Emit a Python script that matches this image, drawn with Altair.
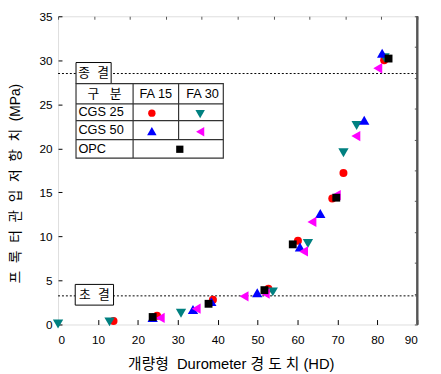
import altair as alt
import pandas as pd

# ---- data ----
series_names = ["CGS25_FA15", "CGS25_FA30", "CGS50_FA15", "CGS50_FA30", "OPC"]
s1_x = [13.9, 24.8, 38.8, 52.7, 60.1, 68.7, 71.5, 81.7]
s1_y = [0.4, 1.0, 2.8, 4.06, 9.5, 14.3, 17.2, 30.0]
s2_x = [0.0, 12.9, 30.8, 53.8, 62.6, 71.5, 74.8, 81.8]
s2_y = [0.05, 0.3, 1.27, 3.7, 9.2, 19.5, 22.6, 30.3]
s3_x = [23.7, 33.8, 38.4, 49.9, 60.6, 65.7, 76.7, 81.2]
s3_y = [0.8, 1.7, 2.6, 3.6, 8.8, 12.6, 23.2, 30.8]
s4_x = [25.6, 34.6, 46.6, 51.9, 61.5, 63.6, 69.7, 74.6, 80.1]
s4_y = [0.75, 1.8, 3.2, 3.5, 8.3, 11.65, 14.7, 21.4, 29.1]
s5_x = [23.7, 37.7, 51.7, 58.8, 69.7, 82.8]
s5_y = [0.85, 2.35, 3.9, 9.1, 14.4, 30.2]

shapes = ["circle", "triangle-down", "triangle-up", "triangle-left", "square"]
colors = ["#ff0000", "#008080", "#0000ff", "#ff00ff", "#000000"]
marker_sizes = [66, 110, 110, 110, 64]

x_ticks = [0, 10, 20, 30, 40, 50, 60, 70, 80, 90]
y_ticks = [0, 5, 10, 15, 20, 25, 30, 35]
ref_lines = [28.5, 3.25]  # 종결 / 초결 levels

NB = "\u00a0"
# table / label boxes (in data coordinates)
box_labels = ["종" + NB + NB + "결", "초" + NB + NB + "결"]
box_x = [4.5, 4.3]
box_x2 = [13.3, 13.9]
box_y = [29.75, 4.55]
box_y2 = [27.35, 2.2]

tbl_cols = [4.5, 18.8, 30.2, 41.4]
tbl_rows = [27.35, 25.05, 23.15, 21.0, 18.9]
tbl_texts = ["구" + NB + NB + NB + "분", "FA 15", "FA 30", "CGS 25", "CGS 50", "OPC"]
tbl_text_x = [11.65, 24.5, 36.2, 5.1, 5.1, 5.1]
tbl_text_y = [26.2, 26.2, 26.2, 24.1, 22.1, 19.95]
tbl_text_align = ["center", "center", "center", "left", "left", "left"]
tbl_mark_x = [23.5, 35.6, 23.5, 35.6, 30.5]
tbl_mark_y = [24.0, 23.9, 21.95, 21.9, 19.9]

FONT = "Liberation Sans, Noto Sans CJK KR"

xs = alt.Scale(domain=[0, 90], nice=False)
ys = alt.Scale(domain=[0, 35], nice=False)

series_x = [s1_x, s2_x, s3_x, s4_x, s5_x]
series_y = [s1_y, s2_y, s3_y, s4_y, s5_y]

sp = NB + " "
xaxis = alt.Axis(values=x_ticks, domain=False, grid=False, tickSize=5, offset=-5,
                 labelPadding=10, labelFontSize=12, labelFont=FONT, labelColor="black",
                 tickColor="black", title="개량형" + sp + "Durometer 경 도 치 (HD)",
                 titleFont=FONT, titleFontSize=15, titleFontWeight="normal",
                 titleColor="black", titleBaseline="middle", titleY=45, titleX=176)
yaxis = alt.Axis(values=y_ticks, domain=False, grid=False, tickSize=4, offset=-4,
                 labelPadding=6, labelFontSize=12, labelFont=FONT, labelColor="black",
                 tickColor="black",
                 title=sp.join(["프", "록", "터", "관", "입", "저", "항", "치", "(MPa)"]),
                 titleFont=FONT, titleFontSize=14, titleFontWeight="normal",
                 titleColor="black", titleBaseline="middle", titleX=-47, titleY=170,
                 titleAngle=270)

ref_df = pd.DataFrame({"y": ref_lines})
ref = alt.Chart(ref_df).mark_rule(color="black", strokeDash=[2, 2], strokeWidth=1).encode(
    y=alt.Y("y:Q", scale=ys, axis=yaxis))

point_layers = []
for i, name in enumerate(series_names):
    df = pd.DataFrame({"hd": series_x[i], "mpa": series_y[i]})
    point_layers.append(
        alt.Chart(df).mark_point(filled=True, opacity=1, shape=shapes[i], color=colors[i],
                                 size=marker_sizes[i]).encode(
            x=alt.X("hd:Q", scale=xs, axis=xaxis),
            y=alt.Y("mpa:Q", scale=ys, axis=yaxis)))

box_df = pd.DataFrame({"t": box_labels, "x": box_x, "x2": box_x2, "y": box_y, "y2": box_y2})
boxes = alt.Chart(box_df).mark_rect(fill="white", stroke="black", strokeWidth=1).encode(
    x=alt.X("x:Q", scale=xs), x2="x2:Q", y=alt.Y("y:Q", scale=ys), y2="y2:Q")
box_df["cx"] = [(a + b) / 2 for a, b in zip(box_x, box_x2)]
box_df["cy"] = [(a + b) / 2 for a, b in zip(box_y, box_y2)]
box_text = alt.Chart(box_df).mark_text(font=FONT, fontSize=13, color="black").encode(
    x=alt.X("cx:Q", scale=xs), y=alt.Y("cy:Q", scale=ys), text="t:N")

tbl_bg_df = pd.DataFrame({"x": [tbl_cols[0]], "x2": [tbl_cols[-1]], "y": [tbl_rows[0]], "y2": [tbl_rows[-1]]})
tbl_bg = alt.Chart(tbl_bg_df).mark_rect(fill="white", stroke="#333333", strokeWidth=1.2).encode(
    x=alt.X("x:Q", scale=xs), x2="x2:Q", y=alt.Y("y:Q", scale=ys), y2="y2:Q")

# inner grid lines of the table
hl = pd.DataFrame({"x": [tbl_cols[0]] * 3, "x2": [tbl_cols[-1]] * 3, "y": tbl_rows[1:4]})
hlines = alt.Chart(hl).mark_rule(color="#333333", strokeWidth=1.2).encode(
    x=alt.X("x:Q", scale=xs), x2="x2:Q", y=alt.Y("y:Q", scale=ys))
vl = pd.DataFrame({"x": [tbl_cols[1], tbl_cols[2]], "y": [tbl_rows[0], tbl_rows[0]],
                   "y2": [tbl_rows[-1], tbl_rows[3]]})
vlines = alt.Chart(vl).mark_rule(color="#333333", strokeWidth=1.2).encode(
    x=alt.X("x:Q", scale=xs), y=alt.Y("y:Q", scale=ys), y2="y2:Q")

tt = pd.DataFrame({"t": tbl_texts, "x": tbl_text_x, "y": tbl_text_y, "a": tbl_text_align})
ttext_c = alt.Chart(tt[tt.a == "center"]).mark_text(font=FONT, fontSize=13, color="black", align="center").encode(
    x=alt.X("x:Q", scale=xs), y=alt.Y("y:Q", scale=ys), text="t:N")
ttext_l = alt.Chart(tt[tt.a == "left"]).mark_text(font=FONT, fontSize=13, color="black", align="left").encode(
    x=alt.X("x:Q", scale=xs), y=alt.Y("y:Q", scale=ys), text="t:N")

tmark_layers = []
for i, name in enumerate(series_names):
    df = pd.DataFrame({"x": [tbl_mark_x[i]], "y": [tbl_mark_y[i]]})
    tmark_layers.append(
        alt.Chart(df).mark_point(filled=True, opacity=1, shape=shapes[i], color=colors[i],
                                 size=marker_sizes[i] * 0.85).encode(
            x=alt.X("x:Q", scale=xs), y=alt.Y("y:Q", scale=ys)))

right_edge = alt.Chart(ref_df).mark_rule(color="#555555", strokeWidth=2).encode(
    x=alt.value(366), y=alt.value(0), y2=alt.value(314))

main = alt.layer(ref, boxes, box_text, tbl_bg, hlines, vlines, ttext_c, ttext_l,
                 *tmark_layers, *point_layers, right_edge)

# secondary (top / right) tick axes, ~10 divisions each
sec_df = pd.DataFrame({"a": [0], "b": [0]})
sec = alt.Chart(sec_df).mark_point(opacity=0).encode(
    x=alt.X("a:Q", scale=alt.Scale(domain=[0, 10], nice=False),
            axis=alt.Axis(orient="top", values=list(range(11)), labels=False, domain=False,
                          grid=False, tickSize=3, offset=-3, tickColor="#555555", title=None)),
    y=alt.Y("b:Q", scale=alt.Scale(domain=[0, 10], nice=False),
            axis=alt.Axis(orient="right", values=list(range(11)), labels=False, domain=False,
                          grid=False, tickSize=3, offset=-3, tickColor="#555555", title=None)),
)

chart = alt.layer(main, sec).resolve_scale(x="independent", y="independent").properties(
    width=366, height=314,
    autosize=alt.AutoSizeParams(type="none"),
    padding={"left": 51, "top": 5, "right": 16, "bottom": 47},
).configure_view(stroke="black", strokeWidth=1).configure(background="white")

chart.save("out.html", embed_options={"renderer": "svg", "actions": False})
